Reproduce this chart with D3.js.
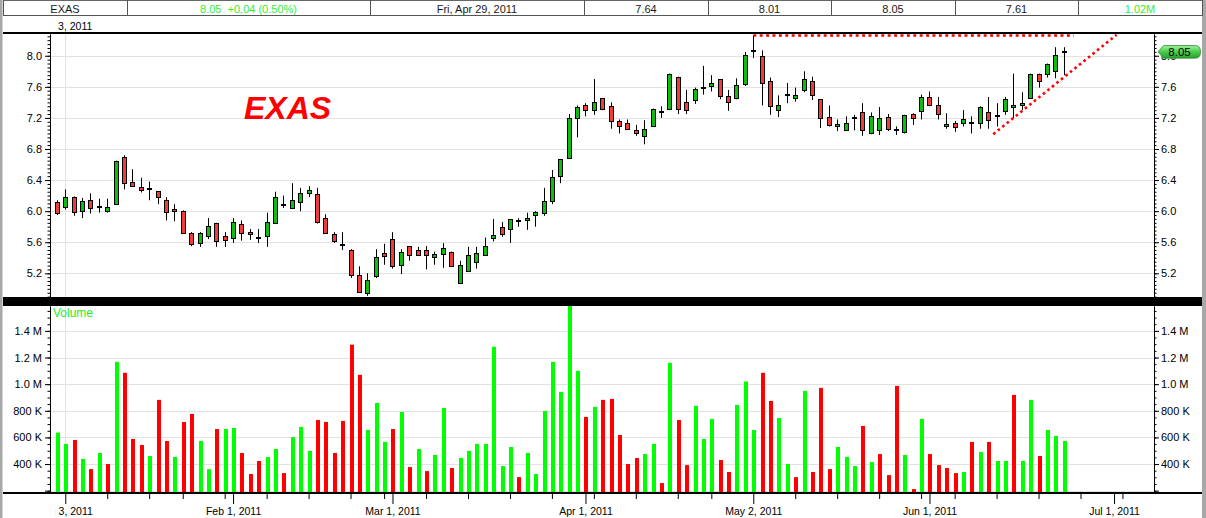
<!DOCTYPE html>
<html><head><meta charset="utf-8">
<script src="https://cdn.jsdelivr.net/npm/d3@7"></script>
<style>
html,body{margin:0;padding:0;background:#fff;overflow:hidden}
svg{display:block;font-family:"Liberation Sans",Arial,sans-serif}
</style></head><body>
<script>
// ---------------- DATA ----------------
const ticker = "EXAS";
const open = [6.12,6.05,6.18,6.00,6.14,6.05,6.00,6.09,6.70,6.38,
6.31,6.28,6.26,6.14,6.03,6.00,5.72,5.59,5.68,5.85,
5.68,5.66,5.84,5.73,5.66,5.68,5.85,6.08,6.04,6.12,
6.23,6.22,5.91,5.70,5.58,5.50,5.18,4.95,5.16,5.46,
5.64,5.31,5.55,5.50,5.50,5.41,5.45,5.48,5.08,5.23,
5.34,5.44,5.66,5.79,5.77,5.88,5.88,5.95,5.97,6.13,
6.45,6.68,7.20,7.36,7.30,7.45,7.35,7.16,7.14,7.04,
6.97,7.09,7.27,7.31,7.73,7.41,7.43,7.59,7.61,7.70,
7.48,7.45,7.64,8.06,8.00,7.68,7.30,7.50,7.45,7.56,
7.68,7.44,7.21,7.09,7.04,7.20,7.27,7.00,7.04,7.21,
7.04,7.02,7.25,7.29,7.47,7.36,7.09,7.14,7.14,7.13,
7.14,7.27,7.23,7.29,7.34,7.36,7.45,7.76,7.77,7.81,
8.05];
const high = [6.14,6.28,6.19,6.17,6.23,6.16,6.16,6.65,6.72,6.54,
6.43,6.38,6.26,6.18,6.09,6.01,5.73,5.73,5.91,5.85,
5.73,5.91,5.88,5.77,5.77,5.98,6.25,6.20,6.36,6.30,
6.32,6.30,5.96,5.73,5.73,5.51,5.29,5.20,5.51,5.58,
5.73,5.51,5.55,5.54,5.55,5.48,5.59,5.48,5.36,5.54,
5.54,5.66,5.90,5.86,5.90,5.91,5.98,6.00,6.30,6.53,
6.67,7.25,7.36,7.39,7.70,7.45,7.40,7.18,7.18,7.11,
7.17,7.32,7.35,7.77,7.73,7.56,7.59,7.87,7.75,7.70,
7.56,7.71,8.05,8.26,8.07,7.72,7.49,7.65,7.59,7.80,
7.73,7.44,7.36,7.18,7.22,7.24,7.39,7.27,7.34,7.25,
7.09,7.24,7.26,7.50,7.54,7.47,7.26,7.16,7.30,7.22,
7.35,7.47,7.39,7.47,7.77,7.53,7.77,7.77,7.90,8.11,
8.11];
const low = [5.95,6.02,5.94,5.91,5.97,5.98,5.98,6.08,6.28,6.31,
6.24,6.14,6.09,5.88,5.87,5.71,5.55,5.54,5.64,5.54,
5.54,5.59,5.62,5.63,5.59,5.54,5.84,6.04,6.04,6.00,
6.18,5.84,5.71,5.59,5.50,5.14,4.95,4.91,5.14,5.31,
5.26,5.19,5.36,5.43,5.25,5.31,5.27,5.29,5.08,5.23,
5.26,5.44,5.61,5.67,5.59,5.80,5.76,5.80,5.94,6.09,
6.36,6.68,6.95,7.22,7.24,7.30,7.06,7.00,7.06,6.97,
6.86,7.09,7.20,7.30,7.25,7.25,7.38,7.50,7.54,7.44,
7.29,7.44,7.61,7.97,7.36,7.24,7.21,7.39,7.41,7.53,
7.43,7.07,7.09,7.03,7.03,7.04,6.97,6.99,6.98,7.03,
6.98,7.00,7.11,7.18,7.35,7.18,7.06,7.02,7.09,7.00,
7.06,7.06,7.09,7.24,7.20,7.30,7.45,7.59,7.72,7.71,
7.75];
const close = [5.98,6.18,5.99,6.13,6.04,6.05,6.05,6.64,6.36,6.32,
6.27,6.28,6.18,5.99,6.00,5.72,5.58,5.72,5.81,5.61,
5.63,5.86,5.72,5.70,5.66,5.86,6.18,6.08,6.14,6.23,
6.27,5.86,5.72,5.61,5.57,5.18,4.96,5.11,5.41,5.42,
5.30,5.48,5.43,5.44,5.43,5.45,5.53,5.29,5.31,5.44,
5.46,5.55,5.69,5.70,5.90,5.89,5.91,5.99,6.13,6.44,
6.67,7.20,7.34,7.30,7.41,7.31,7.16,7.09,7.06,7.00,
7.06,7.32,7.27,7.76,7.32,7.30,7.57,7.59,7.65,7.48,
7.40,7.62,8.01,8.06,7.65,7.35,7.36,7.50,7.49,7.70,
7.49,7.20,7.11,7.12,7.14,7.20,7.04,7.22,7.20,7.06,
7.04,7.24,7.20,7.47,7.36,7.25,7.12,7.08,7.18,7.13,
7.34,7.17,7.23,7.44,7.36,7.39,7.77,7.68,7.89,8.01,
8.05];
// volume in thousands of shares
const volume = [636,551,581,438,362,483,400,1168,1085,588,
543,460,882,573,453,716,776,573,362,663,
663,671,483,325,423,453,513,332,603,678,
498,731,716,483,724,1296,1070,656,859,566,
663,791,377,513,347,468,822,370,445,498,
551,551,1281,385,528,302,483,325,799,1168,
942,1750,1100,754,829,882,889,618,400,445,
475,551,257,1160,731,392,837,588,739,430,
340,844,1020,656,1085,874,746,400,302,949,
340,972,362,528,453,385,686,415,475,317,
987,468,212,739,475,392,370,332,340,566,
490,566,423,423,919,423,882,460,656,611,
573];
const priorClose = 5.96;             // close of the session before the first bar
const firstDay = "2010-12-31";
const holidays = ["2011-01-17","2011-02-21","2011-04-22","2011-05-30","2011-07-04"];
const hoverIndex = 82;               // bar shown in the header (Fri, Apr 29, 2011)
const priceTicks = [5.2,5.6,6.0,6.4,6.8,7.2,7.6,8.0];
const volumeTicks = [200,400,600,800,1000,1200,1400];
const volumeTickLabels = ["","400 K","600 K","800 K","1.0 M","1.2 M","1.4 M"];
const resistanceLine = [[83,8.26],[121.2,8.26]];   // [bar index, price]
const supportLine = [[111.6,6.99],[126.3,8.27]];

// ---------------- LAYOUT ----------------
const W = 1206, H = 518;
const L = 50, R = 1154;
const pTop = 34, pBot = 297, vTop = 306, vBot = 492;
const upCandle = "#0cbf0c", downCandle = "#f23c3c";
const upVol = "#00ff00", downVol = "#ff0000";
const gridCol = "#e2e2e2";
const n = close.length;

// trading days
const parse = d3.timeParse("%Y-%m-%d"), keyFmt = d3.timeFormat("%Y-%m-%d");
const hol = new Set(holidays);
const days = [];
for (let d = parse(firstDay); days.length < 136; d = d3.timeDay.offset(d, 1)) {
  const dow = d.getDay();
  if (dow !== 0 && dow !== 6 && !hol.has(keyFmt(d))) days.push(d);
}

const x = d3.scaleLinear().domain([-0.82, 130.76]).range([L, R]);
const y = d3.scaleLinear().domain([4.895, 8.28]).range([pBot, pTop]);
const yv = d3.scaleLinear().domain([190, 1587]).range([vBot, vTop]);

const svg = d3.select("body").append("svg").attr("width", W).attr("height", H);
const defs = svg.append("defs");
defs.append("clipPath").attr("id","pclip").append("rect").attr("x",L).attr("y",pTop).attr("width",R-L).attr("height",pBot-pTop);
defs.append("clipPath").attr("id","vclip").append("rect").attr("x",L).attr("y",vTop).attr("width",R-L).attr("height",vBot-vTop);
defs.append("clipPath").attr("id","lclip").append("rect").attr("x",55.5).attr("y",0).attr("width",1146).attr("height",H);
const grad = defs.append("linearGradient").attr("id","pillg").attr("x1",0).attr("y1",0).attr("x2",0).attr("y2",1);
grad.append("stop").attr("offset","0").attr("stop-color","#a6f0a6");
grad.append("stop").attr("offset","0.45").attr("stop-color","#4fcf4f");
grad.append("stop").attr("offset","1").attr("stop-color","#2a9e2a");

svg.append("rect").attr("width",W).attr("height",H).attr("fill","#fff");

// ---------------- GRID ----------------
const grid = svg.append("g").attr("stroke", gridCol).attr("stroke-width", 1);
priceTicks.forEach(t => grid.append("line").attr("x1",L).attr("x2",R).attr("y1",Math.round(y(t))+0.5).attr("y2",Math.round(y(t))+0.5));
volumeTicks.forEach(t => grid.append("line").attr("x1",L).attr("x2",R).attr("y1",Math.round(yv(t))+0.5).attr("y2",Math.round(yv(t))+0.5));
// year boundary vertical line
const yearIdx = days.findIndex((d,i) => i > 0 && d.getFullYear() !== days[i-1].getFullYear());
const yx = Math.round(x(yearIdx)) + 0.5;
grid.append("line").attr("x1",yx).attr("x2",yx).attr("y1",pTop).attr("y2",pBot);
grid.append("line").attr("x1",yx).attr("x2",yx).attr("y1",vTop).attr("y2",vBot);

// ---------------- CANDLES ----------------
const cg = svg.append("g").attr("clip-path","url(#pclip)");
const idx = d3.range(n);
idx.forEach(i => {
  const xr = Math.round(x(i));
  cg.append("line").attr("x1",xr+0.5).attr("x2",xr+0.5)
    .attr("y1",y(high[i])).attr("y2",y(low[i])).attr("stroke","#000").attr("stroke-width",1);
  if (open[i] === close[i]) {
    cg.append("rect").attr("x",xr-2).attr("width",5)
      .attr("y",Math.round(y(close[i]))-1).attr("height",2).attr("fill","#000");
  } else {
    const top = Math.round(y(Math.max(open[i],close[i])));
    const bot = Math.round(y(Math.min(open[i],close[i])));
    cg.append("rect").attr("x",xr-1.5).attr("width",4)
      .attr("y",top+0.5).attr("height",Math.max(1,bot-top))
      .attr("fill", close[i] > open[i] ? upCandle : downCandle)
      .attr("stroke","#000").attr("stroke-width",1);
  }
});

// trend lines
const tl = d3.line().x(d => x(d[0])).y(d => y(d[1]));
cg.append("path").attr("d", tl(resistanceLine)).attr("fill","none")
  .attr("stroke","#ff0000").attr("stroke-width",2.6).attr("stroke-dasharray","3,3.4");
cg.append("path").attr("d", tl(supportLine)).attr("fill","none")
  .attr("stroke","#ff0000").attr("stroke-width",2.6).attr("stroke-dasharray","2.6,3.2");

// ---------------- VOLUME ----------------
const vg = svg.append("g").attr("clip-path","url(#vclip)");
vg.selectAll("rect").data(idx).join("rect")
  .attr("x", i => Math.round(x(i)) - 1).attr("width", 4)
  .attr("y", i => yv(volume[i])).attr("height", i => vBot - yv(volume[i]))
  .attr("fill", i => close[i] > (i ? close[i-1] : priorClose) ? upVol : downVol);

// ---------------- FRAME ----------------
svg.append("rect").attr("x",0).attr("y",0).attr("width",2.5).attr("height",H).attr("fill","#a8a8a8");
svg.append("rect").attr("x",1202).attr("y",0).attr("width",4).attr("height",H).attr("fill","#a8a8a8");
svg.append("rect").attr("x",3).attr("y",32).attr("width",1199).attr("height",2).attr("fill","#000");
svg.append("rect").attr("x",3).attr("y",297).attr("width",1199).attr("height",9).attr("fill","#000");
svg.append("rect").attr("x",3).attr("y",492).attr("width",1199).attr("height",2).attr("fill","#000");

// ---------------- AXES ----------------
function styleAxis(g){
  g.attr("font-family",null).attr("font-size",11);
  g.selectAll("text").attr("fill","#000");
  g.selectAll("line,path").attr("stroke","#000");
}
const pMinor = d3.range(98,166).map(k => +(k*0.05).toFixed(2));
const vMinor = d3.range(4,32).map(k => k*50);
[[d3.axisLeft, L],[d3.axisRight, R]].forEach(([ax, px]) => {
  svg.append("g").attr("transform",`translate(${px},0)`)
    .call(ax(y).tickValues(pMinor).tickSize(2.5).tickSizeOuter(0).tickFormat(""))
    .call(styleAxis);
  svg.append("g").attr("transform",`translate(${px},0)`)
    .call(ax(y).tickValues(priceTicks).tickSize(5).tickSizeOuter(0).tickPadding(ax===d3.axisLeft?3:2).tickFormat(d3.format(".1f")))
    .call(styleAxis);
  svg.append("g").attr("transform",`translate(${px},0)`)
    .call(ax(yv).tickValues(vMinor).tickSize(2.5).tickSizeOuter(0).tickFormat(""))
    .call(styleAxis);
  svg.append("g").attr("transform",`translate(${px},0)`)
    .call(ax(yv).tickValues(volumeTicks).tickSize(5).tickSizeOuter(0).tickPadding(ax===d3.axisLeft?3:2)
      .tickFormat((d,k) => volumeTickLabels[k]))
    .call(styleAxis);
});

// date axis
const maxIdx = Math.floor(x.domain()[1]);
const monthIdx = [], weekIdx = [];
for (let i = 1; i <= maxIdx; i++) {
  if (days[i].getMonth() !== days[i-1].getMonth()) monthIdx.push(i);
  else if (days[i].getDay() < days[i-1].getDay()) weekIdx.push(i);
}
const dateFmt = d3.timeFormat("%b %-d, %Y");
svg.append("g").attr("transform",`translate(0,494)`)
  .call(d3.axisBottom(x).tickValues(weekIdx).tickSize(5).tickFormat(""))
  .call(styleAxis).call(g => g.select(".domain").remove());
svg.append("g").attr("transform",`translate(0,494)`).attr("clip-path","url(#lclip)")
  .call(d3.axisBottom(x).tickValues(monthIdx).tickSize(10).tickPadding(4).tickFormat(i => dateFmt(days[i])))
  .call(styleAxis).call(g => g.select(".domain").remove())
  .call(g => g.selectAll("text").attr("font-size",10.5));
// top date label
svg.append("text").attr("clip-path","url(#lclip)").attr("x",x(monthIdx[0])).attr("y",29.5)
  .attr("text-anchor","middle").attr("font-size",10.5).attr("fill","#000").text(dateFmt(days[monthIdx[0]]));

// ---------------- HEADER ----------------
const last = close[n-1], chg = last - close[n-2];
const hdrEdges = [3,127,370,584,708,831,955,1078,1202];
const hdrText = [
  [ticker, "#1a1a1a"],
  [`${last.toFixed(2)}  ${chg>=0?"+":""}${chg.toFixed(2)} (${(chg/close[n-2]*100).toFixed(2)}%)`, chg>=0 ? "#33ee33" : "#ff0000"],
  [d3.timeFormat("%a, %b %d, %Y")(days[hoverIndex]), "#1a1a1a"],
  [open[hoverIndex].toFixed(2), "#1a1a1a"],
  [close[hoverIndex].toFixed(2), "#1a1a1a"],
  [high[hoverIndex].toFixed(2), "#1a1a1a"],
  [low[hoverIndex].toFixed(2), "#1a1a1a"],
  [(volume[hoverIndex]/1000).toFixed(2)+"M", close[hoverIndex] > close[hoverIndex-1] ? "#33ee33" : "#ff0000"]
];
const hg = svg.append("g");
hg.append("line").attr("x1",3).attr("x2",1202).attr("y1",0.5).attr("y2",0.5).attr("stroke","#666");
hg.append("line").attr("x1",3).attr("x2",1202).attr("y1",15.5).attr("y2",15.5).attr("stroke","#555");
hdrEdges.forEach(e => hg.append("line").attr("x1",e+0.5).attr("x2",e+0.5).attr("y1",0).attr("y2",16).attr("stroke","#555"));
hdrText.forEach((t,k) => hg.append("text").attr("x",(hdrEdges[k]+hdrEdges[k+1])/2).attr("y",12.5)
  .attr("text-anchor","middle").attr("font-size",11).attr("fill",t[1]).style("white-space","pre").text(t[0]));

// ---------------- LABELS ----------------
svg.append("text").attr("x",244).attr("y",119).attr("font-size",32).attr("font-weight","bold")
  .attr("font-style","italic").attr("fill","#ff0000").text(ticker);
svg.append("text").attr("x",53).attr("y",316.5).attr("font-size",12).attr("fill","#22ee22").text("Volume");

// last price pill
const py = y(last);
svg.append("path")
  .attr("d",`M1158,${py} L1163.5,${py-6.3} H1195.5 Q1200.5,${py-6.3} 1200.5,${py} Q1200.5,${py+6.3} 1195.5,${py+6.3} H1163.5 Z`)
  .attr("fill","url(#pillg)").attr("stroke","#2f8f2f").attr("stroke-width",0.8);
svg.append("text").attr("x",1179.5).attr("y",py+4).attr("text-anchor","middle").attr("font-size",11.5)
  .attr("fill","#000").text(last.toFixed(2));
</script>
</body></html>
